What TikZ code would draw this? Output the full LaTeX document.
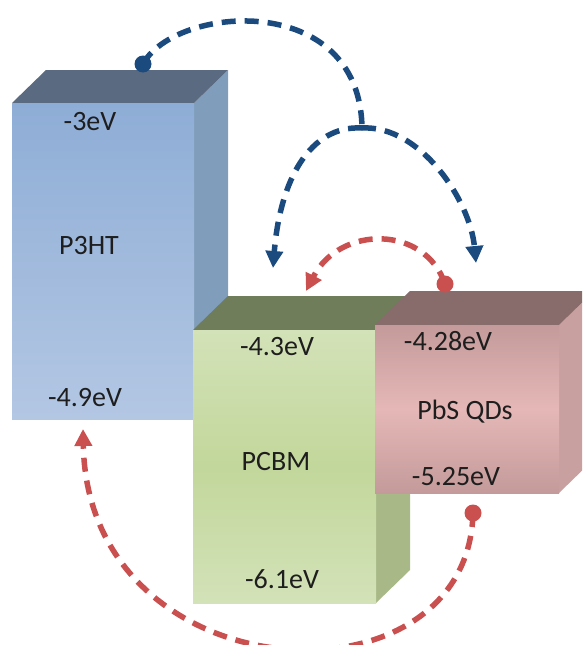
\documentclass[tikz,border=0pt]{standalone}
\usepackage{fontspec}
\setmainfont{Carlito}
\usetikzlibrary{arrows.meta}
\definecolor{bluearr}{HTML}{1A4A7E}
\definecolor{redarr}{HTML}{C9504E}
\definecolor{ptop}{HTML}{5A6A80}
\definecolor{pside}{HTML}{809EBB}
\definecolor{pfa}{HTML}{8EADD6}
\definecolor{pfb}{HTML}{B3C7E3}
\definecolor{gtop}{HTML}{6F7D5A}
\definecolor{gside}{HTML}{A8B987}
\definecolor{gfa}{HTML}{D3E2B8}
\definecolor{gfb}{HTML}{C2D79B}
\definecolor{rtop}{HTML}{886C6C}
\definecolor{rside}{HTML}{C9A0A0}
\definecolor{rfa}{HTML}{C49A9A}
\definecolor{rfb}{HTML}{E5B8B7}
\definecolor{txt}{HTML}{1E1E1E}
\tikzset{
  lbl/.style={inner sep=0pt, text=txt, font=\fontsize{28}{32}\selectfont},
  arr/.style={line width=5.5pt, dash pattern=on 14pt off 9pt, -{Triangle[length=17pt,width=17pt]}},
  plainarr/.style={line width=5.5pt, dash pattern=on 14pt off 9pt},
  dot/.style={circle, inner sep=0pt, minimum size=17pt},
}
\begin{document}
\begin{tikzpicture}[x=1pt,y=-1pt]
\useasboundingbox (0,0) rectangle (582,645);
\clip (0,0) rectangle (582,645);
% P3HT
\fill[pside] (194,103) -- (228,70) -- (228,386) -- (194,419) -- cycle;
\fill[ptop] (12,103) -- (46,70) -- (228,70) -- (194,103) -- cycle;
\shade[top color=pfa, bottom color=pfb] (12,103) rectangle (194,419);
% PCBM
\fill[gside] (376,330) -- (410,296) -- (410,570) -- (376,603) -- cycle;
\fill[gtop] (193,330) -- (228,296) -- (410,296) -- (376,330) -- cycle;
\shade[top color=gfa, bottom color=gfa, middle color=gfb] (193,330) rectangle (376,603);
% PbS QDs
\fill[rside] (559,325) -- (594,291) -- (594,459) -- (559,493) -- cycle;
\fill[rtop] (375,325) -- (410,291) -- (594,291) -- (559,325) -- cycle;
\shade[top color=rfa, bottom color=rfa, middle color=rfb] (375,325) rectangle (559,493);
% labels
\node[lbl] (l1) at (90,122) {-3eV};
\node[lbl] (l2) at (89,246) {P3HT};
\node[lbl] (l3) at (85,398) {-4.9eV};
\node[lbl] (l4) at (277,347) {-4.3eV};
\node[lbl] (l5) at (276,462) {PCBM};
\node[lbl] (l6) at (282,579) {-6.1eV};
\node[lbl] (l7) at (448,341) {-4.28eV};
\node[lbl] (l8) at (465,412) {PbS QDs};
\node[lbl] (l9) at (456,477) {-5.25eV};
% arrows
\node[dot, fill=bluearr] (b0) at (143,64) {};
\coordinate (bj) at (362,128);
\coordinate (bl) at (273,268);
\coordinate (br) at (476,263);
\draw[plainarr, bluearr] (b0.center) .. controls (175,5) and (360,-10) .. (bj);
\draw[arr, bluearr] (bj) .. controls (310,125) and (280,180) .. (bl);
\draw[arr, bluearr] (bj) .. controls (420,125) and (470,200) .. (br);
\node[dot, fill=redarr] (r0) at (445,284) {};
\coordinate (rl) at (306,291);
\draw[arr, redarr] (r0.center) .. controls (425,225) and (340,225) .. (rl);
\node[dot, fill=redarr] (r1) at (473,513) {};
\coordinate (rb) at (83,429);
\draw[arr, redarr] (r1.center) .. controls (468,715) and (88,695) .. (rb);
\end{tikzpicture}
\end{document}
